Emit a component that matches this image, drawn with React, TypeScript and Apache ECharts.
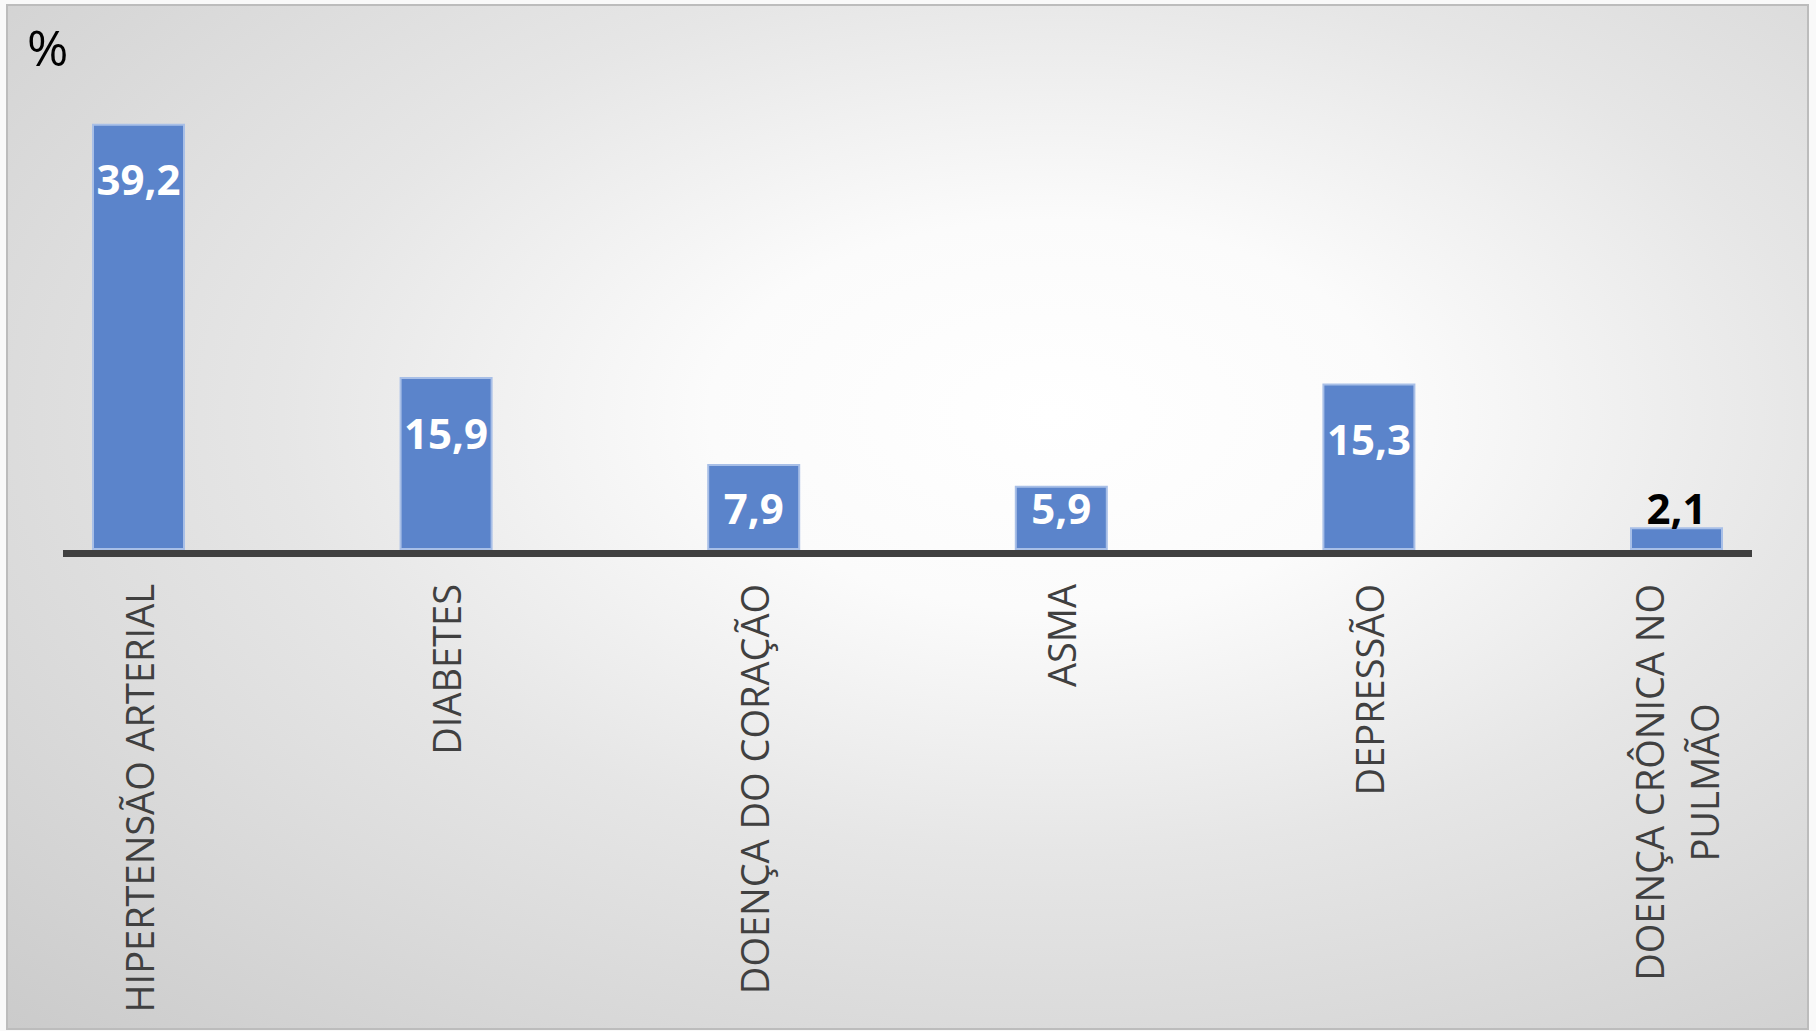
import React, { useEffect, useRef } from 'react';
import * as echarts from 'echarts';

const categories = [
  'HIPERTENSÃO ARTERIAL',
  'DIABETES',
  'DOENÇA DO CORAÇÃO',
  'ASMA',
  'DEPRESSÃO',
  'DOENÇA CRÔNICA NO\nPULMÃO',
];
const values = [39.2, 15.9, 7.9, 5.9, 15.3, 2.1];
const unitLabel = '%';
const yMin = 0;
const yMax = 40;

const FONT = '"Open Sans", "Noto Sans", sans-serif';

const fmt = (v: number) => v.toFixed(1).replace('.', ',');

export default function App() {
  const ref = useRef<HTMLDivElement>(null);

  useEffect(() => {
    document.body.style.margin = '0';
    const chart = echarts.init(ref.current!, undefined, { renderer: 'svg' });
    chart.setOption({
      animation: false,
      backgroundColor: '#f9f9f9',
      graphic: [
        {
          type: 'rect',
          z: -10,
          silent: true,
          shape: { x: 7, y: 5, width: 1801, height: 1024 },
          style: {
            fill: {
              type: 'radial',
              x: 0.58,
              y: 0.4,
              r: 0.95,
              colorStops: [
                { offset: 0, color: '#ffffff' },
                { offset: 0.2, color: '#fbfbfb' },
                { offset: 0.45, color: '#e6e6e6' },
                { offset: 0.75, color: '#d3d3d3' },
                { offset: 1, color: '#c3c3c3' },
              ],
            },
            stroke: '#bcbcbc',
            lineWidth: 2,
          },
        },
        {
          type: 'text',
          z: 10,
          x: 27,
          y: 47,
          style: {
            text: unitLabel,
            fill: '#000000',
            font: `50px ${FONT}`,
            align: 'left',
            verticalAlign: 'middle',
          },
        },
        {
          type: 'line',
          z: 10,
          shape: { x1: 63, y1: 553.5, x2: 1752, y2: 553.5 },
          style: { stroke: '#404040', lineWidth: 7 },
        },
      ],
      grid: { left: 138.5, right: 139.5, top: 115, bottom: 481 },
      xAxis: {
        type: 'category',
        data: categories,
        boundaryGap: false,
        axisLine: { show: false },
        axisTick: { show: false },
        splitLine: { show: false },
        axisLabel: {
          interval: 0,
          rotate: 90,
          margin: 34,
          color: '#404040',
          fontFamily: FONT,
          fontSize: 38,
          lineHeight: 55,
          formatter: (s: string) =>
            s
              .split('\n')
              .map((l) => `{c|${l}}`)
              .join('\n'),
          rich: {
            c: {
              align: 'center',
              color: '#404040',
              fontFamily: FONT,
              fontSize: 38,
              lineHeight: 55,
            },
          },
        },
      },
      yAxis: { type: 'value', min: yMin, max: yMax, show: false },
      series: [
        {
          type: 'bar',
          data: values,
          barWidth: 93,
          clip: false,
          itemStyle: { color: '#5B84CB', borderColor: '#A8BFE7', borderWidth: 2 },
          z: 2,
        },
        {
          type: 'custom',
          data: values.map((v, i) => [i, v]),
          encode: { x: 0, y: 1 },
          z: 5,
          renderItem: (params: any, api: any) => {
            const i = api.value(0);
            const v = api.value(1);
            const top = api.coord([i, v]);
            const base = api.coord([i, 0]);
            const cy = Math.min(top[1] + 55, base[1] - 43);
            const inside = cy - 20 > top[1];
            return {
              type: 'text',
              x: top[0],
              y: cy,
              style: {
                text: fmt(v),
                fill: inside ? '#ffffff' : '#000000',
                font: `bold 42px ${FONT}`,
                align: 'center',
                verticalAlign: 'middle',
              },
            };
          },
        },
      ],
    });
    return () => chart.dispose();
  }, []);

  return <div ref={ref} style={{ width: 1816, height: 1031 }} />;
}
